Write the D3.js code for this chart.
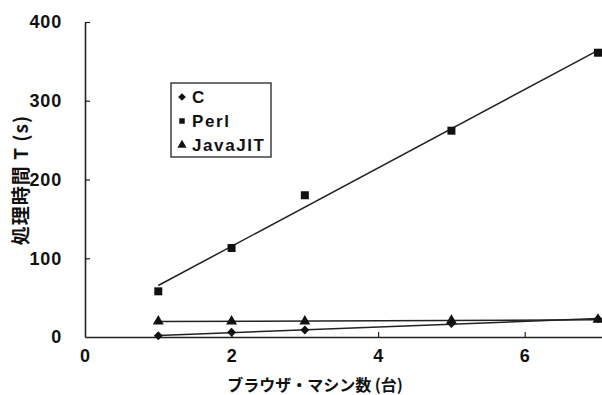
<!DOCTYPE html>
<html>
<head>
<meta charset="utf-8">
<script src="https://cdn.jsdelivr.net/npm/d3@7"></script>
<style>
  body { margin: 0; background: #fff; }
  svg { display: block; }
  text { font-family: "Liberation Sans", Arial, sans-serif; font-weight: bold; fill: #111; }
  .jp { font-family: "Noto Sans CJK JP", sans-serif; font-weight: bold; }
</style>
</head>
<body>
<svg id="chart" width="602" height="395"></svg>
<script>
// machines (x) and processing time in seconds
var machines = [1, 2, 3, 5, 7];
var timeC = [1.5, 6, 9, 17, 23];
var timePerl = [58, 113, 180, 262, 361];
var timeJava = [20, 20, 20, 21, 22];
var seriesNames = ["C", "Perl", "JavaJIT"];
var xTicks = [0, 2, 4, 6];
var yTicks = [0, 100, 200, 300, 400];

var svg = d3.select("#chart");

var x = d3.scaleLinear().domain([0, 7.3]).range([85, 85 + 7.3 * (598 - 85) / 7]);
var y = d3.scaleLinear().domain([0, 400]).range([337, 22]);

// diamond = square turned 45 degrees (d3's diamond is too narrow)
var symbols = [d3.symbolSquare, d3.symbolSquare, d3.symbolTriangle];
var symRot = [45, 0, 0];
var symSize = [40, 64, 52];
var all = [timeC, timePerl, timeJava];

// axes, ticks pointing inward
var gx = svg.append("g").attr("transform", "translate(0," + y(0) + ")")
  .call(d3.axisBottom(x).tickValues(xTicks).tickFormat(d3.format("d"))
    .tickSizeInner(-5).tickSizeOuter(0).tickPadding(12));
var gy = svg.append("g").attr("transform", "translate(" + x(0) + ",0)")
  .call(d3.axisLeft(y).tickValues(yTicks).tickFormat(d3.format("d"))
    .tickSizeInner(-5).tickSizeOuter(0).tickPadding(23));
[gx, gy].forEach(function(g) {
  g.select(".domain").attr("stroke", "#222").attr("stroke-width", 1.6);
  g.selectAll(".tick line").attr("stroke", "#222").attr("stroke-width", 1.2);
  g.selectAll(".tick text").style("font-size", "18px").attr("fill", "#111")
    .style("font-family", "Liberation Sans, Arial, sans-serif").style("font-weight", "bold")
    .style("letter-spacing", "0.8px");
});
gx.selectAll(".tick").filter(function(d) { return d === 0; }).select("line").remove();
gy.selectAll(".tick").filter(function(d) { return d === 0; }).select("line").remove();

// least squares trend line per series
function fit(ys) {
  var mx = d3.mean(machines), my = d3.mean(ys);
  var sxy = d3.sum(machines, function(m, i) { return (m - mx) * (ys[i] - my); });
  var sxx = d3.sum(machines, function(m) { return (m - mx) * (m - mx); });
  var b = sxy / sxx;
  return function(v) { return my + b * (v - mx); };
}

var x0 = d3.min(machines), x1 = d3.max(machines);
all.forEach(function(ys) {
  var f = fit(ys);
  svg.append("line")
    .attr("x1", x(x0)).attr("y1", y(f(x0)))
    .attr("x2", x(x1)).attr("y2", y(f(x1)))
    .attr("stroke", "#222").attr("stroke-width", 1.5);
});

all.forEach(function(ys, k) {
  svg.append("g").selectAll("path")
    .data(machines)
    .enter().append("path")
      .attr("transform", function(d, i) {
        return "translate(" + x(d) + "," + y(ys[i]) + ") rotate(" + symRot[k] + ")";
      })
      .attr("d", d3.symbol().type(symbols[k]).size(symSize[k]))
      .attr("fill", "#111");
});

// legend
var lg = svg.append("g");
lg.append("rect").attr("x", 171).attr("y", 83).attr("width", 100).attr("height", 74)
  .attr("fill", "#fff").attr("stroke", "#222").attr("stroke-width", 1.3);
seriesNames.forEach(function(name, k) {
  var cy = 97 + k * 24;
  lg.append("path").attr("transform", "translate(182," + cy + ") rotate(" + symRot[k] + ")")
    .attr("d", d3.symbol().type(symbols[k]).size(k === 2 ? 36 : 30)).attr("fill", "#111");
  lg.append("text").attr("x", 192).attr("y", cy).attr("dy", "0.36em")
    .style("font-size", "17px").style("letter-spacing", "1.6px").text(name);
});

// axis titles
svg.append("text").attr("class", "jp").attr("x", 315).attr("y", 391)
  .attr("text-anchor", "middle").style("font-size", "16px").text("ブラウザ・マシン数 (台)");
svg.append("text").attr("class", "jp")
  .attr("transform", "translate(28,180) rotate(-90)")
  .attr("text-anchor", "middle").style("font-size", "19px").style("letter-spacing", "1px")
  .text("処理時間 T (s)");
</script>
</body>
</html>
